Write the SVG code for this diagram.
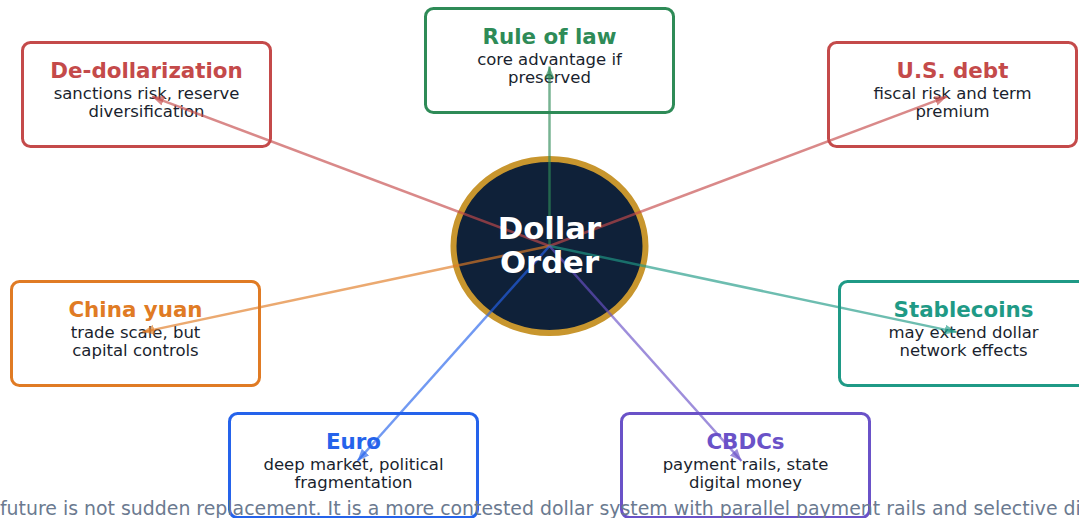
<svg xmlns="http://www.w3.org/2000/svg" width="1079" height="518" viewBox="0 0 1079 518">
  <style>
    .box { fill: #ffffff; stroke-width: 3; }
    .title { font-family: "DejaVu Sans", sans-serif; font-weight: bold; font-size: 21.4px; text-anchor: middle; }
    .body { font-family: "DejaVu Sans", sans-serif; font-size: 16.5px; fill: #1a1f2e; text-anchor: middle; }
    .link { stroke-width: 2.5; fill: none; stroke-opacity: 0.65; }
    .center-label { font-family: "DejaVu Sans", sans-serif; font-weight: bold; font-size: 30.7px; fill: #ffffff; text-anchor: middle; }
    .footer { font-family: "DejaVu Sans", sans-serif; font-size: 18.9px; fill: #6b7a90; }
  </style>
  <defs>
    <marker id="ah-red" markerUnits="userSpaceOnUse" markerWidth="13" markerHeight="11" refX="12" refY="5" orient="auto"><path d="M0,0 L12,5 L0,10 Z" fill="#c44a4a" fill-opacity="0.65"/></marker>
    <marker id="ah-green" markerUnits="userSpaceOnUse" markerWidth="13" markerHeight="11" refX="12" refY="5" orient="auto"><path d="M0,0 L12,5 L0,10 Z" fill="#2e8b57" fill-opacity="0.65"/></marker>
    <marker id="ah-orange" markerUnits="userSpaceOnUse" markerWidth="13" markerHeight="11" refX="12" refY="5" orient="auto"><path d="M0,0 L12,5 L0,10 Z" fill="#e07b24" fill-opacity="0.65"/></marker>
    <marker id="ah-teal" markerUnits="userSpaceOnUse" markerWidth="13" markerHeight="11" refX="12" refY="5" orient="auto"><path d="M0,0 L12,5 L0,10 Z" fill="#1f9a86" fill-opacity="0.65"/></marker>
    <marker id="ah-blue" markerUnits="userSpaceOnUse" markerWidth="13" markerHeight="11" refX="12" refY="5" orient="auto"><path d="M0,0 L12,5 L0,10 Z" fill="#2563eb" fill-opacity="0.65"/></marker>
    <marker id="ah-purple" markerUnits="userSpaceOnUse" markerWidth="13" markerHeight="11" refX="12" refY="5" orient="auto"><path d="M0,0 L12,5 L0,10 Z" fill="#6a52c8" fill-opacity="0.65"/></marker>
  </defs>

  <!-- outer nodes -->
  <g id="node-rule-of-law">
    <rect class="box" x="425.5" y="8.5" width="248" height="104" rx="8" stroke="#2e8b57"/>
    <text class="title" x="549.5" y="44" fill="#2e8b57">Rule of law</text>
    <text class="body" x="549.5" y="65">core advantage if</text>
    <text class="body" x="549.5" y="83">preserved</text>
  </g>
  <g id="node-dedollarization">
    <rect class="box" x="22.5" y="42.5" width="248" height="104" rx="8" stroke="#c44a4a"/>
    <text class="title" x="146.5" y="78" fill="#c44a4a">De-dollarization</text>
    <text class="body" x="146.5" y="99">sanctions risk, reserve</text>
    <text class="body" x="146.5" y="117">diversification</text>
  </g>
  <g id="node-us-debt">
    <rect class="box" x="828.5" y="42.5" width="248" height="104" rx="8" stroke="#c44a4a"/>
    <text class="title" x="952.5" y="78" fill="#c44a4a">U.S. debt</text>
    <text class="body" x="952.5" y="99">fiscal risk and term</text>
    <text class="body" x="952.5" y="117">premium</text>
  </g>
  <g id="node-china-yuan">
    <rect class="box" x="11.5" y="281.5" width="248" height="104" rx="8" stroke="#e07b24"/>
    <text class="title" x="135.5" y="317" fill="#e07b24">China yuan</text>
    <text class="body" x="135.5" y="338">trade scale, but</text>
    <text class="body" x="135.5" y="356">capital controls</text>
  </g>
  <g id="node-stablecoins">
    <rect class="box" x="839.5" y="281.5" width="248" height="104" rx="8" stroke="#1f9a86"/>
    <text class="title" x="963.5" y="317" fill="#1f9a86">Stablecoins</text>
    <text class="body" x="963.5" y="338">may extend dollar</text>
    <text class="body" x="963.5" y="356">network effects</text>
  </g>
  <g id="node-euro">
    <rect class="box" x="229.5" y="413.5" width="248" height="104" rx="8" stroke="#2563eb"/>
    <text class="title" x="353.5" y="449" fill="#2563eb">Euro</text>
    <text class="body" x="353.5" y="470">deep market, political</text>
    <text class="body" x="353.5" y="488">fragmentation</text>
  </g>
  <g id="node-cbdcs">
    <rect class="box" x="621.5" y="413.5" width="248" height="104" rx="8" stroke="#6a52c8"/>
    <text class="title" x="745.5" y="449" fill="#6a52c8">CBDCs</text>
    <text class="body" x="745.5" y="470">payment rails, state</text>
    <text class="body" x="745.5" y="488">digital money</text>
  </g>

  <!-- central node -->
  <g id="node-dollar-order">
    <ellipse cx="549.5" cy="246" rx="96" ry="87" fill="#0f2139" stroke="#c8962e" stroke-width="6"/>
  </g>

  <!-- connectors from the centre out to each factor -->
  <g id="connectors">
    <line class="link" x1="549.5" y1="246" x2="549.5" y2="66.5" stroke="#2e8b57" marker-end="url(#ah-green)"/>
    <line class="link" x1="549.5" y1="246" x2="152.1" y2="96.6" stroke="#c44a4a" marker-end="url(#ah-red)"/>
    <line class="link" x1="549.5" y1="246" x2="946.9" y2="96.6" stroke="#c44a4a" marker-end="url(#ah-red)"/>
    <line class="link" x1="549.5" y1="246" x2="142.4" y2="332.1" stroke="#e07b24" marker-end="url(#ah-orange)"/>
    <line class="link" x1="549.5" y1="246" x2="956.6" y2="332.1" stroke="#1f9a86" marker-end="url(#ah-teal)"/>
    <line class="link" x1="549.5" y1="246" x2="357.5" y2="461" stroke="#2563eb" marker-end="url(#ah-blue)"/>
    <line class="link" x1="549.5" y1="246" x2="741.5" y2="461" stroke="#6a52c8" marker-end="url(#ah-purple)"/>
  </g>

  <g id="label-dollar-order">
    <text class="center-label" x="549.5" y="239">Dollar</text>
    <text class="center-label" x="549.5" y="273">Order</text>
  </g>

  <text class="footer" x="-41.2" y="515">The future is not sudden replacement. It is a more contested dollar system with parallel payment rails and selective diversification.</text>
</svg>
